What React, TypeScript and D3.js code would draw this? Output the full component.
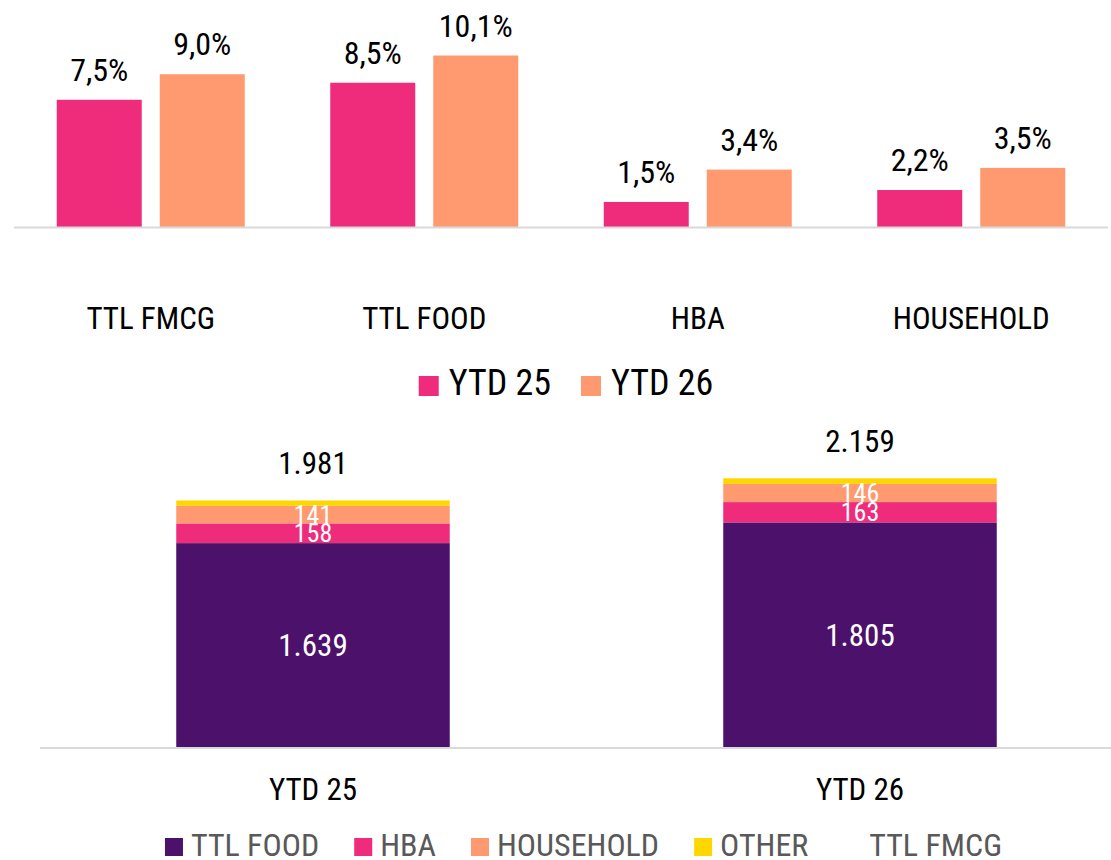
import React, { useMemo } from "react";
import * as d3 from "d3";

// ---- data ----
const categories = ["TTL FMCG", "TTL FOOD", "HBA", "HOUSEHOLD"];
const seriesNames = ["YTD 25", "YTD 26"];
const ytd25 = [7.5, 8.5, 1.5, 2.2];
const ytd26 = [9.0, 10.1, 3.4, 3.5];

const periods = ["YTD 25", "YTD 26"];
const ttlFood = [1639, 1805];
const hba = [158, 163];
const household = [141, 146];
const other = [43, 45];
const ttlFmcg = [1981, 2159];
const stackKeys = ["TTL FOOD", "HBA", "HOUSEHOLD", "OTHER"];
const legendBottom = ["TTL FOOD", "HBA", "HOUSEHOLD", "OTHER", "TTL FMCG"];

const PINK = "#EF2B7B";
const SALMON = "#FF9970";
const PURPLE = "#4C116A";
const YELLOW = "#FFD700";
const AXIS = "#D9D9D9";

const W = 1111;
const H = 860;

function detectFont() {
  if (typeof document === "undefined") return { family: "Roboto", sx: 0.88 };
  const c = document.createElement("canvas");
  const ctx = c.getContext("2d")!;
  const s = "TTL FMCG 1.981 HOUSEHOLD";
  ctx.font = "30px monospace";
  const a = ctx.measureText(s).width;
  ctx.font = "30px 'Roboto Condensed', monospace";
  const b = ctx.measureText(s).width;
  ctx.font = "30px serif";
  const a2 = ctx.measureText(s).width;
  ctx.font = "30px 'Roboto Condensed', serif";
  const b2 = ctx.measureText(s).width;
  if (a !== b && a2 !== b2) return { family: "'Roboto Condensed'", sx: 1 };
  return { family: "Roboto", sx: 0.88 };
}

export default function App() {
  const font = useMemo(detectFont, []);
  const measure = useMemo(() => {
    const c = document.createElement("canvas");
    const ctx = c.getContext("2d")!;
    return (t: string, size: number) => {
      ctx.font = `${size}px ${font.family}`;
      return ctx.measureText(t).width * font.sx;
    };
  }, [font]);

  const T = (props: {
    x: number;
    y: number;
    size: number;
    fill?: string;
    anchor?: "start" | "middle" | "end";
    children: React.ReactNode;
  }) => (
    <text
      transform={`translate(${props.x},${props.y}) scale(${font.sx},1)`}
      fontSize={props.size}
      fill={props.fill ?? "#000"}
      textAnchor={props.anchor ?? "middle"}
      fontFamily={font.family}
    >
      {props.children}
    </text>
  );

  const pct = (v: number) => v.toFixed(1).replace(".", ",") + "%";
  const loc = d3.formatLocale({ decimal: ",", thousands: ".", grouping: [3], currency: ["", "€"] });
  const num = loc.format(",d");

  // ---- top chart ----
  const x0 = d3.scaleBand<string>().domain(categories).range([14, 1108]).padding(0);
  const x1 = d3
    .scaleBand<string>()
    .domain(seriesNames)
    .range([0, x0.bandwidth()])
    .paddingInner(0.1748)
    .paddingOuter(0.415);
  const yTop = d3.scaleLinear().domain([0, 10.1]).range([227.5, 55.5]);
  const topSeries = [
    { name: seriesNames[0], values: ytd25, color: PINK },
    { name: seriesNames[1], values: ytd26, color: SALMON },
  ];

  // top legend
  const topLegSize = 36;
  const topItems = topSeries.map((s) => ({ ...s, w: 20 + 10 + measure(s.name, topLegSize) }));
  const topLegW = d3.sum(topItems, (d) => d.w) + 30 * (topItems.length - 1);
  let tlx = 566 - topLegW / 2;
  const topLegPos = topItems.map((it) => {
    const p = tlx;
    tlx += it.w + 30;
    return p;
  });

  // ---- bottom chart ----
  const xb = d3.scaleBand<string>().domain(periods).range([39.5, 1133.5]).paddingInner(0.5).paddingOuter(0.25);
  const yb = d3.scaleLinear().domain([0, 2000]).range([747.5, 747.5 - 2000 * 0.1247]);
  const rows = periods.map((p, i) => ({
    period: p,
    "TTL FOOD": ttlFood[i],
    HBA: hba[i],
    HOUSEHOLD: household[i],
    OTHER: other[i],
  }));
  const stack = d3.stack<any>().keys(stackKeys)(rows);
  const colorOf: Record<string, string> = {
    "TTL FOOD": PURPLE,
    HBA: PINK,
    HOUSEHOLD: SALMON,
    OTHER: YELLOW,
  };
  const labelSize: Record<string, number> = { "TTL FOOD": 31, HBA: 26, HOUSEHOLD: 26 };

  // bottom legend
  const botLegSize = 32;
  const botItems = legendBottom.map((n) => ({ name: n, w: 18 + 8 + measure(n, botLegSize) }));
  const botLegW = d3.sum(botItems, (d) => d.w) + 35 * (botItems.length - 1);
  let blx = 583.5 - botLegW / 2;
  const botLegPos = botItems.map((it) => {
    const p = blx;
    blx += it.w + 35;
    return p;
  });

  return (
    <svg width={W} height={H} style={{ position: "absolute", left: 0, top: 0, background: "#fff" }}>
      {/* top chart bars */}
      {topSeries.map((s) =>
        categories.map((c, i) => {
          const x = x0(c)! + x1(s.name)!;
          const y = yTop(s.values[i]);
          return (
            <g key={s.name + c}>
              <rect x={x} y={y} width={x1.bandwidth()} height={yTop(0) - y} fill={s.color} />
              <T x={x + x1.bandwidth() / 2} y={y - 19} size={32}>
                {pct(s.values[i])}
              </T>
            </g>
          );
        })
      )}
      <line x1={14} x2={1108} y1={227.5} y2={227.5} stroke={AXIS} strokeWidth={2} />
      {categories.map((c) => (
        <T key={c} x={x0(c)! + x0.bandwidth() / 2} y={329} size={31}>
          {c}
        </T>
      ))}
      {/* top legend */}
      {topItems.map((it, i) => (
        <g key={it.name}>
          <rect x={topLegPos[i]} y={376} width={20} height={20} fill={it.color} />
          <T x={topLegPos[i] + 30} y={394.5} size={topLegSize} anchor="start">
            {it.name}
          </T>
        </g>
      ))}

      {/* bottom chart */}
      {stack.map((layer) =>
        layer.map((d, i) => {
          const x = xb(periods[i])!;
          const y0 = yb(d[0]);
          const y1 = yb(d[1]);
          return (
            <rect
              key={layer.key + i}
              x={x}
              y={y1}
              width={xb.bandwidth()}
              height={y0 - y1}
              fill={colorOf[layer.key]}
            />
          );
        })
      )}
      {stack.map((layer) =>
        layer.map((d, i) => {
          if (layer.key === "OTHER") return null;
          const size = labelSize[layer.key];
          const cy = (yb(d[0]) + yb(d[1])) / 2;
          return (
            <T
              key={"l" + layer.key + i}
              x={xb(periods[i])! + xb.bandwidth() / 2}
              y={cy + size * 0.355}
              size={size}
              fill="#fff"
            >
              {num(d[1] - d[0])}
            </T>
          );
        })
      )}
      {periods.map((p, i) => (
        <T key={"t" + p} x={xb(p)! + xb.bandwidth() / 2} y={yb(ttlFmcg[i]) - 26} size={31}>
          {num(ttlFmcg[i])}
        </T>
      ))}
      <line x1={40} x2={1111} y1={748} y2={748} stroke={AXIS} strokeWidth={2} />
      {periods.map((p) => (
        <T key={"c" + p} x={xb(p)! + xb.bandwidth() / 2} y={800} size={31}>
          {p}
        </T>
      ))}
      {/* bottom legend */}
      {botItems.map((it, i) => (
        <g key={"bl" + it.name}>
          {colorOf[it.name] && (
            <rect x={botLegPos[i]} y={838} width={18} height={18} fill={colorOf[it.name]} />
          )}
          <T x={botLegPos[i] + 26} y={856} size={botLegSize} fill="#595959" anchor="start">
            {it.name}
          </T>
        </g>
      ))}
    </svg>
  );
}
